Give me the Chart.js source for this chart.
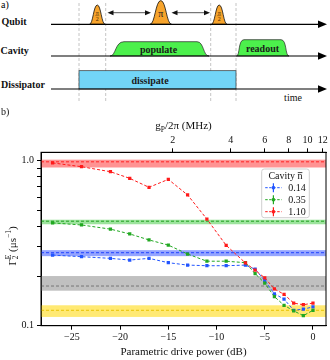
<!DOCTYPE html>
<html>
<head>
<meta charset="utf-8">
<script src="https://cdn.jsdelivr.net/npm/chart.js@4.4.0/dist/chart.umd.min.js"></script>
<style>
  html, body { margin: 0; padding: 0; background: #fff; }
  #wrap { position: relative; width: 330px; height: 360px; overflow: hidden; }
  #seq { position: absolute; left: 0; top: 0; }
  #plotBox { position: absolute; left: 0; top: 108px; width: 330px; height: 252px; }
</style>
</head>
<body>
<div id="wrap">
<!-- a) pulse sequence -->
<svg id="seq" width="330" height="108" viewBox="0 0 330 108" font-family="'Liberation Serif', 'DejaVu Serif', serif">
  <text x="1" y="8" font-size="10">a)</text>
  <g stroke="#b5b5b5" stroke-width="0.8" stroke-dasharray="3,2">
    <line x1="79" y1="3" x2="79" y2="102"/>
    <line x1="105.7" y1="3" x2="105.7" y2="102"/>
    <line x1="210.7" y1="3" x2="210.7" y2="102"/>
    <line x1="236" y1="3" x2="236" y2="102"/>
  </g>
  <rect x="79" y="70.7" width="157" height="18.3" fill="#72d5f7" stroke="#333" stroke-width="0.7"/>
  <path d="M110,56 C116,56 115,41.7 124,41.7 L197,41.7 C204,41.7 203,56 209,56 Z" fill="#4cf04c" stroke="#222" stroke-width="0.7"/>
  <path d="M236.5,56 C240,56 238,39.7 244,39.7 L281,39.7 C287,39.7 285,56 289,56 Z" fill="#4cf04c" stroke="#222" stroke-width="0.7"/>
  <g fill="#f7a42c" stroke="#111" stroke-width="0.8">
    <path d="M89.5,24.3 C93,24.3 93.5,5 97.3,5 C101,5 101.5,24.3 105.1,24.3 Z"/>
    <path d="M150,24.3 C155,24.3 155.5,0.6 160.8,0.6 C166,0.6 166.5,24.3 171.6,24.3 Z"/>
    <path d="M211.3,24.3 C215,24.3 215.5,5 219.2,5 C223,5 223.5,24.3 227.1,24.3 Z"/>
  </g>
  <g fill="#3a2200" font-size="6" text-anchor="middle">
    <text x="97.3" y="14.5">π</text>
    <text x="97.3" y="20.5">2</text>
    <text x="219.2" y="14.5">π</text>
    <text x="219.2" y="20.5">2</text>
  </g>
  <g stroke="#3a2200" stroke-width="0.4">
    <line x1="95.3" y1="15.6" x2="99.3" y2="15.6"/>
    <line x1="217.2" y1="15.6" x2="221.2" y2="15.6"/>
  </g>
  <text x="160.8" y="17" font-size="10" text-anchor="middle" fill="#222">π</text>
  <g stroke="#444" stroke-width="0.9">
    <line x1="111" y1="12.7" x2="148" y2="12.7"/>
    <line x1="174.5" y1="12.7" x2="207" y2="12.7"/>
  </g>
  <g fill="#111">
    <polygon points="107.5,12.7 113.5,10.2 113.5,15.2"/>
    <polygon points="151,12.7 145,10.2 145,15.2"/>
    <polygon points="171.5,12.7 177.5,10.2 177.5,15.2"/>
    <polygon points="210,12.7 204,10.2 204,15.2"/>
  </g>
  <g stroke="#000" stroke-width="1.2">
    <line x1="51" y1="24.3" x2="320" y2="24.3"/>
    <line x1="51" y1="56" x2="320" y2="56"/>
    <line x1="51" y1="89" x2="320" y2="89"/>
  </g>
  <g fill="#000">
    <polygon points="318,20.6 327,24.3 318,28"/>
    <polygon points="318,52.3 327,56 318,59.7"/>
    <polygon points="318,85.3 327,89 318,92.7"/>
  </g>
  <g font-size="10" font-weight="bold" fill="#111">
    <text x="1.5" y="24.5">Qubit</text>
    <text x="0.5" y="54">Cavity</text>
    <text x="1" y="88">Dissipator</text>
  </g>
  <g font-size="10" font-weight="bold" fill="#1a1a1a" text-anchor="middle">
    <text x="158.5" y="52.5">populate</text>
    <text x="262.5" y="52">readout</text>
    <text x="150" y="83.5">dissipate</text>
  </g>
  <text x="293" y="100.5" font-size="10" text-anchor="middle" fill="#111">time</text>
</svg>
<!-- b) decay rate vs drive power -->
<div id="plotBox"><canvas id="decayChart" width="330" height="252"></canvas></div>
</div>
<script>
// Parametric drive power (dB), shared by all three series
const powerDb = [-27, -24, -21, -19, -17, -15, -13, -11, -9, -7, -6, -5, -4, -3, -2, -1, 0];

// Gamma_2^E (1/us) for each cavity photon number
const gammaN014 = [0.268, 0.262, 0.256, 0.250, 0.256, 0.241, 0.233, 0.231, 0.231, 0.233, 0.220, 0.188, 0.156, 0.145, 0.124, 0.126, 0.130];
const gammaN035 = [0.420, 0.408, 0.385, 0.360, 0.331, 0.308, 0.272, 0.246, 0.246, 0.241, 0.207, 0.181, 0.150, 0.133, 0.123, 0.115, 0.124];
const gammaN110 = [0.970, 0.920, 0.858, 0.782, 0.690, 0.771, 0.620, 0.443, 0.307, 0.240, 0.217, 0.195, 0.167, 0.155, 0.137, 0.134, 0.137];
const seriesLabels = ['0.14', '0.35', '1.10'];

// Reference levels (dashed line) with their shaded ranges: red, green, blue, grey, yellow
const bandMid  = [0.985, 0.430, 0.277, 0.174, 0.124];
const bandLow  = [0.910, 0.412, 0.264, 0.163, 0.113];
const bandHigh = [1.015, 0.439, 0.287, 0.200, 0.133];

// Axis ticks
const xTicks = [-25, -20, -15, -10, -5, 0];
const yTicks = [0.1, 0.2, 0.3, 0.4, 0.5, 0.6, 0.7, 0.8, 0.9, 1.0];
const topTicksMHz = [2, 4, 6, 8, 10, 12];
const gAtZeroDb = 10.67; // g_P/2pi (MHz) at 0 dB

// Colours
const seriesColors = ['#2255ff', '#22a822', '#ff1a1a'];
const bandFills = ['rgba(255,40,40,0.5)', 'rgba(60,200,60,0.5)', 'rgba(60,90,255,0.55)', 'rgba(150,150,150,0.6)', 'rgba(255,215,0,0.55)'];
const bandLines = ['#ff2020', '#20a020', '#2040ff', '#777777', '#e8c400'];

const serif = "'Liberation Serif', 'DejaVu Serif', serif";

// Shaded reference bands behind the data
const bandsPlugin = {
    id: 'bands',
    beforeDatasetsDraw(chart) {
        const { ctx, chartArea } = chart;
        const y = chart.scales.y;
        ctx.save();
        bandMid.forEach((mid, i) => {
            const top = y.getPixelForValue(bandHigh[i]);
            const bot = y.getPixelForValue(bandLow[i]);
            ctx.fillStyle = bandFills[i];
            ctx.fillRect(chartArea.left, top, chartArea.right - chartArea.left, bot - top);
            const ym = y.getPixelForValue(mid);
            ctx.strokeStyle = bandLines[i];
            ctx.lineWidth = 1;
            ctx.setLineDash([3, 2]);
            ctx.beginPath();
            ctx.moveTo(chartArea.left, ym);
            ctx.lineTo(chartArea.right, ym);
            ctx.stroke();
        });
        ctx.restore();
    }
};

// draw a run of text pieces (with sub/superscripts) starting at x
function drawRun(ctx, pieces, x, y, measureOnly) {
    let cx = x;
    pieces.forEach(p => {
        if (p.stack) {
            let w = 0;
            p.stack.forEach(s => {
                ctx.font = s.size + 'px ' + serif;
                if (!measureOnly) ctx.fillText(s.t, cx, y + s.dy);
                w = Math.max(w, ctx.measureText(s.t).width);
            });
            cx += w;
        } else {
            ctx.font = (p.bold ? 'bold ' : '') + p.size + 'px ' + serif;
            if (!measureOnly) ctx.fillText(p.t, cx, y + (p.dy || 0));
            cx += ctx.measureText(p.t).width;
        }
    });
    return cx - x;
}

// Frame, axis titles, panel label and legend
const decorPlugin = {
    id: 'decor',
    afterDraw(chart) {
        const { ctx, chartArea } = chart;
        ctx.save();
        ctx.strokeStyle = '#000';
        ctx.lineWidth = 1;
        ctx.setLineDash([]);
        ctx.strokeRect(chartArea.left, chartArea.top, chartArea.right - chartArea.left, chartArea.bottom - chartArea.top);

        ctx.fillStyle = '#111';
        ctx.textAlign = 'left';
        ctx.textBaseline = 'alphabetic';
        ctx.font = '10px ' + serif;
        ctx.fillText('b)', 1, 7);

        // top axis title
        const topTitle = [
            { t: 'g', size: 11 }, { t: 'P', size: 7.5, dy: 2.5 }, { t: '/2π (MHz)', size: 11 }
        ];
        const tw = drawRun(ctx, topTitle, 0, 0, true);
        drawRun(ctx, topTitle, (chartArea.left + chartArea.right) / 2 - tw / 2, 21, false);

        // y axis title, rotated
        const yTitle = [
            { t: 'Γ', size: 11 },
            { stack: [{ t: 'E', size: 7.5, dy: -4.5 }, { t: '2', size: 7.5, dy: 2.5 }] },
            { t: ' (μs', size: 11 }, { t: '−1', size: 7.5, dy: -4.5 }, { t: ')', size: 11 }
        ];
        const yw = drawRun(ctx, yTitle, 0, 0, true);
        ctx.translate(15.5, 138);
        ctx.rotate(-Math.PI / 2);
        drawRun(ctx, yTitle, -yw / 2, 0, false);
        ctx.setTransform(1, 0, 0, 1, 0, 0);

        // legend
        const lx = 261.7, ly = 61, lw = 47.6, lh = 48.7;
        ctx.fillStyle = 'rgba(255,255,255,0.85)';
        ctx.strokeStyle = '#cfcfcf';
        ctx.lineWidth = 1;
        ctx.beginPath();
        ctx.roundRect(lx, ly, lw, lh, 2.5);
        ctx.fill();
        ctx.stroke();
        ctx.fillStyle = '#111';
        ctx.font = '10px ' + serif;
        const head = 'Cavity n';
        const hw = ctx.measureText(head).width;
        const hx = lx + lw / 2 - hw / 2;
        ctx.fillText(head, hx, ly + 10);
        const nw = ctx.measureText('n').width;
        ctx.strokeStyle = '#111';
        ctx.lineWidth = 0.8;
        ctx.beginPath();
        ctx.moveTo(hx + hw - nw + 0.2, ly + 3.6);
        ctx.lineTo(hx + hw - 0.2, ly + 3.6);
        ctx.stroke();
        seriesLabels.forEach((lab, i) => {
            const ry = ly + 18.7 + i * 12;
            const col = seriesColors[i];
            ctx.strokeStyle = col;
            ctx.fillStyle = col;
            ctx.lineWidth = 1;
            ctx.setLineDash([2.5, 1.5]);
            ctx.beginPath();
            ctx.moveTo(lx + 3.5, ry);
            ctx.lineTo(lx + 20, ry);
            ctx.stroke();
            ctx.setLineDash([]);
            ctx.lineWidth = 1.2;
            ctx.beginPath();
            ctx.moveTo(lx + 11.7, ry - 4.5);
            ctx.lineTo(lx + 11.7, ry + 4.5);
            ctx.stroke();
            ctx.fillRect(lx + 10.2, ry - 1.5, 3, 3);
            ctx.fillStyle = '#111';
            ctx.font = '10px ' + serif;
            ctx.textBaseline = 'middle';
            ctx.fillText(lab, lx + 26.5, ry + 0.5);
            ctx.textBaseline = 'alphabetic';
        });
        ctx.restore();
    }
};

const tickFont = { family: serif, size: 10 };

function initDecayChart() {
    const canvas = document.getElementById('decayChart');
    if (!canvas) return;

    const series = [gammaN014, gammaN035, gammaN110];
    const datasets = series.map((vals, i) => ({
        label: seriesLabels[i],
        data: powerDb.map((p, k) => ({ x: p, y: vals[k] })),
        borderColor: seriesColors[i],
        backgroundColor: seriesColors[i],
        borderWidth: 1,
        borderDash: [3, 2],
        pointStyle: 'rect',
        pointRadius: 2.3,
        pointBorderWidth: 0,
        tension: 0,
        order: 3 - i,
        xAxisID: 'x',
        yAxisID: 'y'
    }));

    new Chart(canvas, {
        type: 'line',
        data: { datasets: datasets },
        options: {
            responsive: false,
            animation: false,
            events: [],
            layout: { padding: { left: 0, right: 3, top: 0, bottom: 0 } },
            plugins: {
                legend: { display: false },
                tooltip: { enabled: false }
            },
            scales: {
                x: {
                    type: 'linear',
                    position: 'bottom',
                    min: -28.2,
                    max: 1.35,
                    afterBuildTicks: s => { s.ticks = xTicks.map(v => ({ value: v })); },
                    afterFit: s => { s.height = 34.3; s.paddingLeft = 0; s.paddingRight = 0; },
                    grid: { drawOnChartArea: false, tickLength: 4, color: '#000', tickColor: '#000' },
                    border: { display: true, color: '#000' },
                    ticks: {
                        autoSkip: false,
                        maxRotation: 0,
                        padding: 2,
                        color: '#111',
                        font: tickFont,
                        callback: v => (v < 0 ? '−' + Math.abs(v) : String(v))
                    },
                    title: {
                        display: true,
                        text: 'Parametric drive power (dB)',
                        color: '#111',
                        font: { family: serif, size: 11 },
                        padding: { top: 0, bottom: 1 }
                    }
                },
                xTop: {
                    type: 'linear',
                    position: 'top',
                    min: -28.2,
                    max: 1.35,
                    afterBuildTicks: s => {
                        s.ticks = topTicksMHz.map(g => ({ value: 20 * Math.log10(g / gAtZeroDb) }));
                    },
                    afterFit: s => { s.height = 44.3; s.paddingLeft = 0; s.paddingRight = 0; },
                    grid: { drawOnChartArea: false, tickLength: 4, color: '#000', tickColor: '#000' },
                    border: { display: true, color: '#000' },
                    ticks: {
                        autoSkip: false,
                        maxRotation: 0,
                        padding: 2,
                        color: '#111',
                        font: tickFont,
                        callback: (v, i) => String(topTicksMHz[i])
                    }
                },
                y: {
                    type: 'logarithmic',
                    position: 'left',
                    min: 0.1,
                    max: 1.125,
                    afterBuildTicks: s => { s.ticks = yTicks.map(v => ({ value: v })); },
                    afterFit: s => { s.width = 41; s.paddingTop = 0; s.paddingBottom = 0; },
                    grid: { drawOnChartArea: false, tickLength: 4, color: '#000', tickColor: '#000' },
                    border: { display: true, color: '#000' },
                    ticks: {
                        autoSkip: false,
                        padding: 3,
                        color: '#111',
                        font: tickFont,
                        callback: v => {
                            if (Math.abs(v - 1) < 1e-6) return '1.0';
                            if (Math.abs(v - 0.1) < 1e-6) return '0.1';
                            return '';
                        }
                    }
                }
            }
        },
        plugins: [bandsPlugin, decorPlugin]
    });
}

initDecayChart();
</script>
</body>
</html>
